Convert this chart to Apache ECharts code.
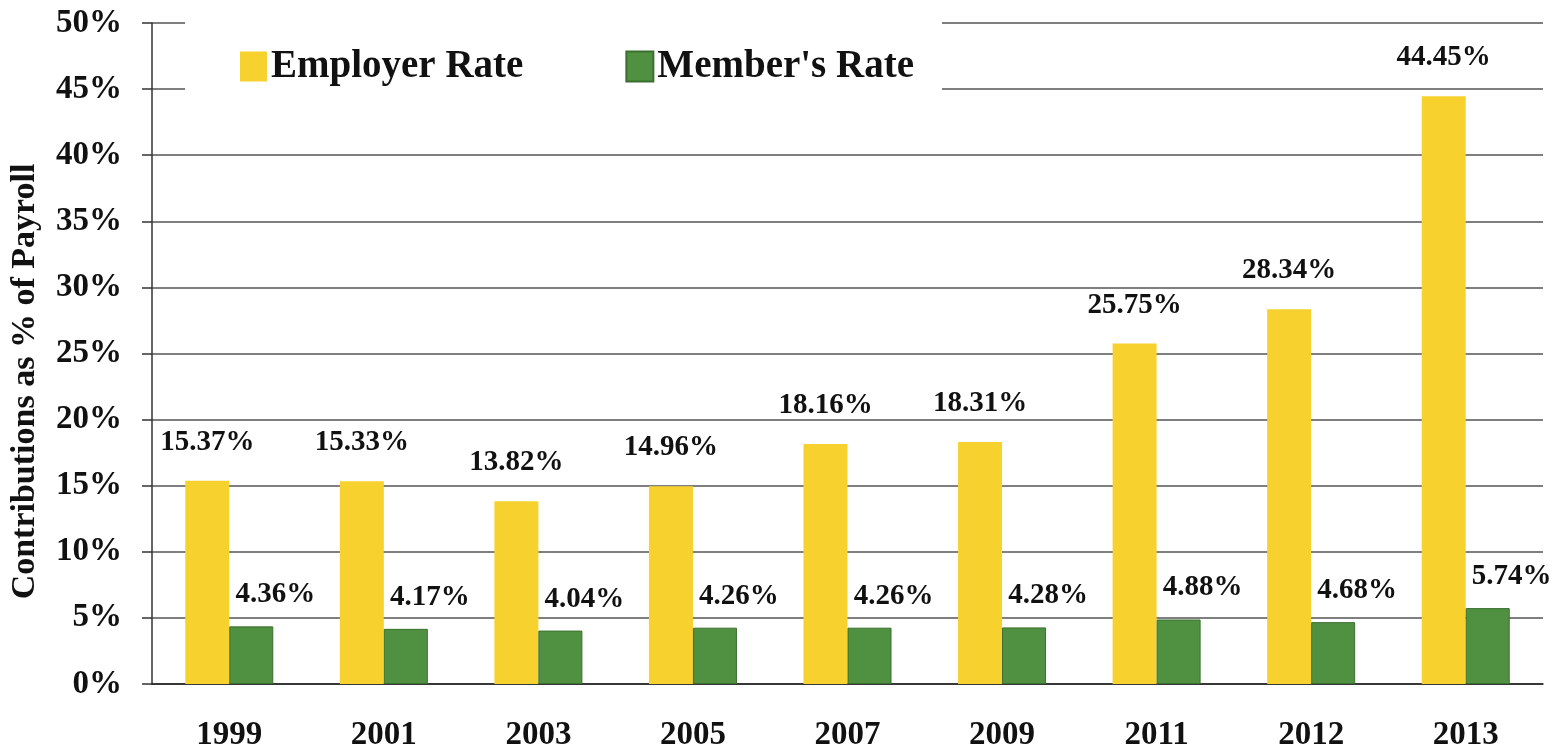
<!DOCTYPE html>
<html><head><meta charset="utf-8">
<script src="https://cdn.jsdelivr.net/npm/echarts@6/dist/echarts.min.js"></script>
<style>html,body{margin:0;padding:0;background:#fff}#c{width:1567px;height:752px}</style>
</head><body><div id="c"></div>
<script>
const years = ['1999','2001','2003','2005','2007','2009','2011','2012','2013'];
const employerRate = [15.37, 15.33, 13.82, 14.96, 18.16, 18.31, 25.75, 28.34, 44.45];
const memberRate = [4.36, 4.17, 4.04, 4.26, 4.26, 4.28, 4.88, 4.68, 5.74];
const seriesNames = ['Employer Rate', "Member's Rate"];
const yTicks = [0, 5, 10, 15, 20, 25, 30, 35, 40, 45, 50];

const serif = '"Liberation Serif", "DejaVu Serif", serif';
const chart = echarts.init(document.getElementById('c'));
chart.setOption({
  animation: false,
  backgroundColor: '#fff',
  grid: { left: 150, right: 24, top: 23, bottom: 64 },
  legend: {
    left: 185, top: 15,
    padding: [32, 28, 20, 55],
    backgroundColor: '#fff',
    itemWidth: 27, itemHeight: 30, itemGap: 102,
    icon: 'rect',
    textStyle: { fontFamily: serif, fontWeight: 'bold', fontSize: 39, color: '#111', padding: [0,0,0,-1] },
    data: seriesNames
  },
  xAxis: {
    type: 'category', data: years,
    axisLine: { lineStyle: { color: '#222', width: 1.5 } },
    axisTick: { show: false },
    axisLabel: { fontFamily: serif, fontWeight: 'bold', fontSize: 33, color: '#111', margin: 35 }
  },
  yAxis: {
    type: 'value', min: yTicks[0], max: yTicks[yTicks.length-1], interval: 5,
    name: 'Contributions as % of Payroll',
    nameLocation: 'middle', nameGap: 110, nameRotate: 90,
    nameTextStyle: { fontFamily: serif, fontWeight: 'bold', fontSize: 34, color: '#111', padding: [0, 56, 0, 0] },
    axisLine: { show: true, lineStyle: { color: '#333', width: 1.5 } },
    axisTick: { show: true, length: 10, lineStyle: { color: '#333', width: 1.5 } },
    splitLine: { lineStyle: { color: '#555', width: 1.5 } },
    axisLabel: { fontFamily: serif, fontWeight: 'bold', fontSize: 33, color: '#111', margin: 30, formatter: v => v + '%' }
  },
  series: [
    {
      name: seriesNames[0], type: 'bar', data: employerRate,
      barWidth: 44, barGap: '0%',
      itemStyle: { color: '#F7D12E' },
      label: { show: true, position: 'top', distance: 24, formatter: p => p.value.toFixed(2) + '%',
        fontFamily: serif, fontWeight: 'bold', fontSize: 29, color: '#111' }
    },
    {
      name: seriesNames[1], type: 'bar', data: memberRate,
      barWidth: 44,
      itemStyle: { color: '#4F9141', borderColor: '#3B6F2F', borderWidth: 1 },
      label: { show: true, position: 'top', distance: 17, offset: [24, 0], formatter: p => p.value.toFixed(2) + '%',
        fontFamily: serif, fontWeight: 'bold', fontSize: 29, color: '#111' }
    }
  ]
});
</script></body></html>
